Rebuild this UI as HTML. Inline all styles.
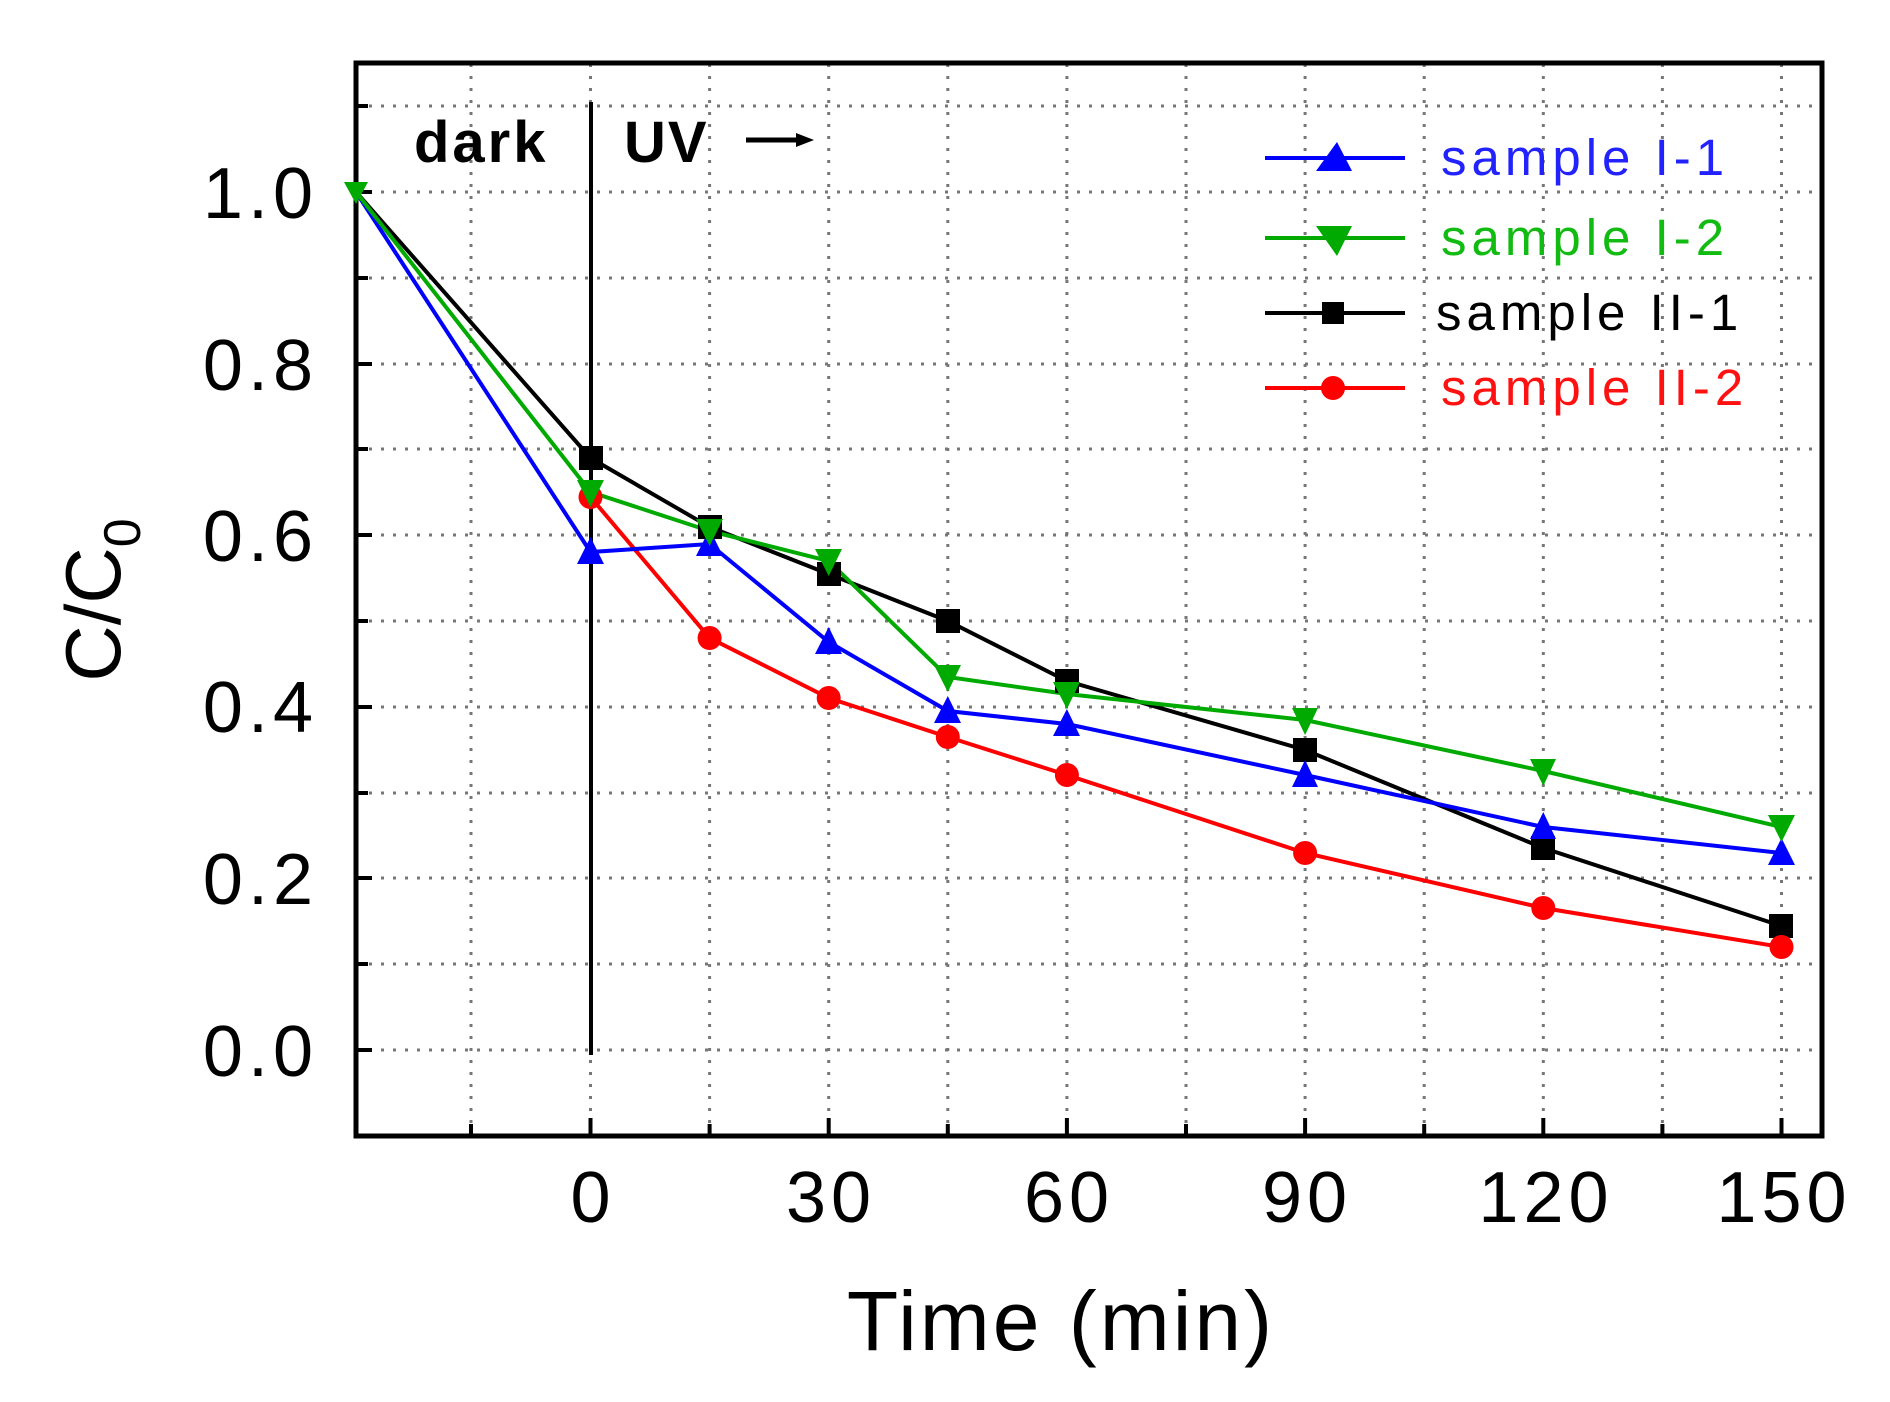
<!DOCTYPE html>
<html><head><meta charset="utf-8"><style>html,body{margin:0;padding:0;background:#fff}svg{display:block}</style></head>
<body>
<svg width="1890" height="1402" viewBox="0 0 1890 1402" xmlns="http://www.w3.org/2000/svg" font-family="Liberation Sans, Arial, sans-serif">
<rect width="1890" height="1402" fill="#fff"/>
<g stroke="#777" stroke-width="3" stroke-dasharray="3,9" fill="none">
<line x1="471" y1="64" x2="471" y2="1135"/><line x1="590.5" y1="64" x2="590.5" y2="1135"/>
<line x1="709.6" y1="64" x2="709.6" y2="1135"/><line x1="828.7" y1="64" x2="828.7" y2="1135"/>
<line x1="947.8" y1="64" x2="947.8" y2="1135"/><line x1="1066.9" y1="64" x2="1066.9" y2="1135"/>
<line x1="1186" y1="64" x2="1186" y2="1135"/><line x1="1305.1" y1="64" x2="1305.1" y2="1135"/>
<line x1="1424.2" y1="64" x2="1424.2" y2="1135"/><line x1="1543.3" y1="64" x2="1543.3" y2="1135"/>
<line x1="1662.4" y1="64" x2="1662.4" y2="1135"/><line x1="1781.5" y1="64" x2="1781.5" y2="1135"/>
<line x1="357" y1="106" x2="1822" y2="106"/><line x1="357" y1="192" x2="1822" y2="192"/>
<line x1="357" y1="278" x2="1822" y2="278"/><line x1="357" y1="364" x2="1822" y2="364"/>
<line x1="357" y1="449" x2="1822" y2="449"/><line x1="357" y1="535" x2="1822" y2="535"/>
<line x1="357" y1="621" x2="1822" y2="621"/><line x1="357" y1="707" x2="1822" y2="707"/>
<line x1="357" y1="793" x2="1822" y2="793"/><line x1="357" y1="878" x2="1822" y2="878"/>
<line x1="357" y1="964" x2="1822" y2="964"/><line x1="357" y1="1050" x2="1822" y2="1050"/>
</g>
<g stroke="#000" stroke-width="4">
<line x1="356" y1="106" x2="368" y2="106"/><line x1="356" y1="192" x2="372" y2="192"/>
<line x1="356" y1="278" x2="368" y2="278"/><line x1="356" y1="364" x2="372" y2="364"/>
<line x1="356" y1="449" x2="368" y2="449"/><line x1="356" y1="535" x2="372" y2="535"/>
<line x1="356" y1="621" x2="368" y2="621"/><line x1="356" y1="707" x2="372" y2="707"/>
<line x1="356" y1="793" x2="368" y2="793"/><line x1="356" y1="878" x2="372" y2="878"/>
<line x1="356" y1="964" x2="368" y2="964"/><line x1="356" y1="1050" x2="372" y2="1050"/>
<line x1="471" y1="1136" x2="471" y2="1124"/><line x1="590.5" y1="1136" x2="590.5" y2="1118"/>
<line x1="709.6" y1="1136" x2="709.6" y2="1124"/><line x1="828.7" y1="1136" x2="828.7" y2="1118"/>
<line x1="947.8" y1="1136" x2="947.8" y2="1124"/><line x1="1066.9" y1="1136" x2="1066.9" y2="1118"/>
<line x1="1186" y1="1136" x2="1186" y2="1124"/><line x1="1305.1" y1="1136" x2="1305.1" y2="1118"/>
<line x1="1424.2" y1="1136" x2="1424.2" y2="1124"/><line x1="1543.3" y1="1136" x2="1543.3" y2="1118"/>
<line x1="1662.4" y1="1136" x2="1662.4" y2="1124"/><line x1="1781.5" y1="1136" x2="1781.5" y2="1118"/>
</g>
<rect x="356" y="63" width="1466" height="1073" fill="none" stroke="#000" stroke-width="5"/>
<line x1="591" y1="102" x2="591" y2="1055" stroke="#000" stroke-width="4"/>
<text x="414" y="162" font-size="58" font-weight="bold" letter-spacing="3">dark</text>
<text x="624" y="162" font-size="58" font-weight="bold" letter-spacing="2">UV</text>
<line x1="746" y1="140" x2="806" y2="140" stroke="#000" stroke-width="5"/>
<polygon points="796,133 814,140 796,147" fill="#000"/>
<g fill="none" stroke-width="4">
<polyline stroke="#000" points="356,192 590.5,458 709.6,527 828.7,574 947.8,621 1066.9,681 1305.1,750 1543.3,848 1781.5,926"/>
<polyline stroke="#f00" points="590.5,497 709.6,638 828.7,698 947.8,737 1066.9,775 1305.1,853 1543.3,908 1781.5,947"/>
<polyline stroke="#00f" points="356,192 590.5,552 709.6,544 828.7,642 947.8,711 1066.9,724 1305.1,775 1543.3,827 1781.5,853"/>
<polyline stroke="#0a0" points="356,192 590.5,492 709.6,531 828.7,561 947.8,677 1066.9,694 1305.1,720 1543.3,771 1781.5,827"/>
</g>
<g fill="#000">
<rect x="579" y="446" width="24" height="24"/><rect x="698" y="515" width="24" height="24"/><rect x="817" y="562" width="24" height="24"/><rect x="936" y="609" width="24" height="24"/><rect x="1055" y="669" width="24" height="24"/><rect x="1293" y="738" width="24" height="24"/><rect x="1531" y="836" width="24" height="24"/><rect x="1769" y="914" width="24" height="24"/>
</g>
<g fill="#f00">
<circle cx="590.5" cy="497" r="12"/><circle cx="709.6" cy="638" r="12"/><circle cx="828.7" cy="698" r="12"/><circle cx="947.8" cy="737" r="12"/><circle cx="1066.9" cy="775" r="12"/><circle cx="1305.1" cy="853" r="12"/><circle cx="1543.3" cy="908" r="12"/><circle cx="1781.5" cy="947" r="12"/>
</g>
<g fill="#00f">
<polygon points="590.5,537 604,564 577,564"/><polygon points="709.6,529 723,556 696,556"/><polygon points="828.7,627 842,654 815,654"/><polygon points="947.8,696 961,723 934,723"/><polygon points="1066.9,709 1080,736 1053,736"/><polygon points="1305.1,760 1318,787 1292,787"/><polygon points="1543.3,812 1556,839 1530,839"/><polygon points="1781.5,838 1795,865 1768,865"/>
</g>
<g fill="#0a0">
<polygon points="590.5,507 604,480 577,480"/><polygon points="709.6,546 723,519 696,519"/><polygon points="828.7,576 842,549 815,549"/><polygon points="947.8,692 961,665 934,665"/><polygon points="1066.9,709 1080,682 1053,682"/><polygon points="1305.1,735 1318,708 1292,708"/><polygon points="1543.3,786 1556,759 1530,759"/><polygon points="1781.5,842 1795,815 1768,815"/>
<polygon points="356,204 368,182 344,182"/>
</g>
<g stroke-width="4">
<line x1="1265" y1="158" x2="1405" y2="158" stroke="#00f"/>
<line x1="1265" y1="238" x2="1405" y2="238" stroke="#0a0"/>
<line x1="1265" y1="313" x2="1405" y2="313" stroke="#000"/>
<line x1="1265" y1="388" x2="1405" y2="388" stroke="#f00"/>
</g>
<polygon points="1337,142 1352,171 1316,171" fill="#00f"/>
<polygon points="1337,256 1352,226 1316,226" fill="#0a0"/>
<rect x="1322" y="302" width="22" height="22" fill="#000"/>
<circle cx="1333" cy="388" r="12" fill="#f00"/>
<g font-size="51" letter-spacing="5">
<text x="1441" y="175" fill="#22f">sample I-1</text>
<text x="1441" y="255" fill="#1b1">sample I-2</text>
<text x="1436" y="330" fill="#000">sample II-1</text>
<text x="1441" y="405" fill="#f11">sample II-2</text>
</g>
<g font-size="72" text-anchor="end" letter-spacing="5">
<text x="318" y="218">1.0</text><text x="318" y="390">0.8</text><text x="318" y="561">0.6</text>
<text x="318" y="732">0.4</text><text x="318" y="904">0.2</text><text x="318" y="1076">0.0</text>
</g>
<g font-size="72" text-anchor="middle" letter-spacing="5">
<text x="593" y="1222">0</text><text x="831" y="1222">30</text><text x="1069" y="1222">60</text>
<text x="1307" y="1222">90</text><text x="1546" y="1222">120</text><text x="1784" y="1222">150</text>
</g>
<text x="1061" y="1350" font-size="84" text-anchor="middle" letter-spacing="3">Time (min)</text>
<text transform="translate(120,600) rotate(-90)" font-size="78" text-anchor="middle">C/C<tspan font-size="52" dy="20">0</tspan></text>
</svg>
</body></html>
